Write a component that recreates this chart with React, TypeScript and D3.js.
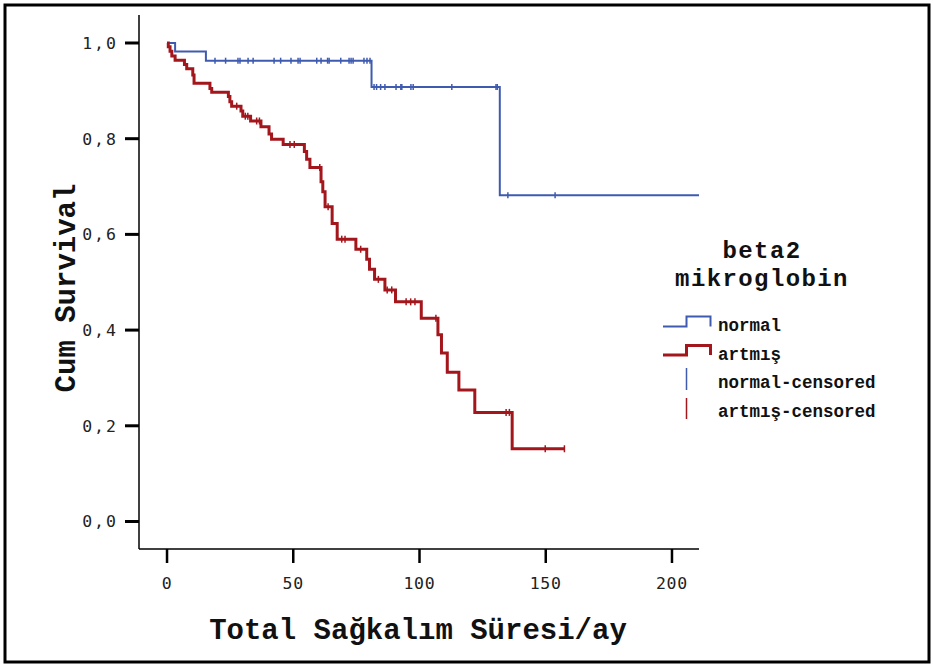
import React from "react";
import * as d3 from "d3";

// Kaplan-Meier steps: [time, survival after event]
const normalSteps: [number, number][] = [
  [0, 1.0], [3.2, 0.982], [15.4, 0.963], [81.0, 0.908], [131.8, 0.682], [210.7, 0.682],
];
const normalCensored: [number, number][] = [
  [19.0, 0.963], [23.2, 0.963], [28.1, 0.963], [28.9, 0.963], [32.1, 0.963], [34.1, 0.963],
  [42.4, 0.963], [45.0, 0.963], [49.1, 0.963], [51.9, 0.963], [52.7, 0.963], [59.3, 0.963],
  [61.0, 0.963], [63.6, 0.963], [64.2, 0.963], [68.8, 0.963], [72.1, 0.963], [72.9, 0.963],
  [73.7, 0.963], [78.0, 0.963], [79.2, 0.963], [80.4, 0.963],
  [82.0, 0.908], [83.0, 0.908], [84.6, 0.908], [86.3, 0.908], [90.7, 0.908], [92.6, 0.908],
  [93.0, 0.908], [96.6, 0.908], [97.5, 0.908], [112.8, 0.908], [130.3, 0.908], [130.8, 0.908],
  [135.0, 0.682], [153.7, 0.682],
];

const artmisSteps: [number, number][] = [
  [0, 1.0], [0.5, 0.992], [1.2, 0.983], [1.9, 0.973], [3.2, 0.964], [6.9, 0.955], [7.8, 0.946],
  [10.2, 0.933], [10.7, 0.916], [17.0, 0.905], [17.7, 0.897], [24.3, 0.888], [24.9, 0.877],
  [25.6, 0.868], [29.3, 0.858], [30.0, 0.847], [33.1, 0.837], [37.2, 0.825], [40.4, 0.81],
  [41.4, 0.799], [46.0, 0.788], [54.4, 0.773], [55.3, 0.757], [56.6, 0.74], [61.0, 0.71],
  [61.7, 0.689], [62.6, 0.658], [65.4, 0.623], [67.4, 0.59], [74.8, 0.569], [79.1, 0.548],
  [80.2, 0.527], [82.2, 0.506], [86.3, 0.484], [90.5, 0.459], [100.7, 0.425], [107.3, 0.39],
  [108.7, 0.352], [111.0, 0.312], [115.6, 0.275], [121.9, 0.228], [136.7, 0.152], [157.4, 0.152],
];
const artmisCensored: [number, number][] = [
  [27.6, 0.868], [31.0, 0.847], [32.0, 0.847], [35.5, 0.837], [36.6, 0.837], [48.7, 0.788],
  [50.4, 0.788], [60.5, 0.74], [63.8, 0.658], [69.2, 0.59], [70.5, 0.59], [76.7, 0.569],
  [83.7, 0.506], [87.2, 0.484], [89.0, 0.484], [94.7, 0.459], [96.5, 0.459], [98.2, 0.459],
  [106.5, 0.425], [134.3, 0.228], [135.6, 0.228], [149.8, 0.152], [157.4, 0.152],
];

const xTicks = [0, 50, 100, 150, 200];
const yTicks = [0, 0.2, 0.4, 0.6, 0.8, 1.0];
const yTickLabels = ["0,0", "0,2", "0,4", "0,6", "0,8", "1,0"];
const legendTitle = ["beta2", "mikroglobin"];
const legendLabels = ["normal", "artmış", "normal-censored", "artmış-censored"];

const BLUE = "#3f5bb0";
const RED = "#a3161c";

export default function App() {
  const W = 933, H = 667;
  const x = d3.scaleLinear().domain([-11.1, 210.7]).range([139, 699]);
  const y = d3.scaleLinear().domain([-0.0575, 1.0585]).range([549, 15]);
  const line = d3.line<[number, number]>().x(d => x(d[0])).y(d => y(d[1])).curve(d3.curveStepAfter);
  const bold = "'Liberation Mono', 'Courier New', monospace";
  const tickFont = "'DejaVu Sans Mono', monospace";

  return (
    <svg width={W} height={H} style={{ position: "absolute", left: 0, top: 0 }}>
      <rect x={0} y={0} width={W} height={H} fill="#fff" />
      <rect x={5} y={5} width={924} height={657} fill="none" stroke="#000" strokeWidth={3} />
      {/* axes */}
      <line x1={139} x2={139} y1={15} y2={549} stroke="#000" strokeWidth={1.5} />
      <line x1={139} x2={699} y1={549} y2={549} stroke="#000" strokeWidth={1.5} />
      {yTicks.map((t, i) => (
        <g key={"yt" + i}>
          <line x1={125} x2={139} y1={y(t)} y2={y(t)} stroke="#000" strokeWidth={3} />
          <text x={118} y={y(t) + 6} textAnchor="end" fontFamily={tickFont} fontSize={16.5} letterSpacing={2} fill="#222">
            {yTickLabels[i]}
          </text>
        </g>
      ))}
      {xTicks.map((t, i) => (
        <g key={"xt" + i}>
          <line x1={x(t)} x2={x(t)} y1={549} y2={563} stroke="#000" strokeWidth={2.5} />
          <text x={x(t)} y={589} textAnchor="middle" fontFamily={tickFont} fontSize={16.5} letterSpacing={0.8} fill="#222">
            {t}
          </text>
        </g>
      ))}
      <text x={418} y={639} textAnchor="middle" fontFamily={bold} fontWeight="bold" fontSize={29} fill="#111">
        Total Sağkalım Süresi/ay
      </text>
      <text transform="translate(75,288) rotate(-90)" textAnchor="middle" fontFamily={bold} fontWeight="bold" fontSize={29} fill="#111">
        Cum Survival
      </text>
      {/* curves */}
      <path d={line(normalSteps) || ""} fill="none" stroke={BLUE} strokeWidth={2} />
      <path d={line(artmisSteps) || ""} fill="none" stroke={RED} strokeWidth={3} />
      {normalCensored.map((d, i) => (
        <line key={"nc" + i} x1={x(d[0])} x2={x(d[0])} y1={y(d[1]) - 3} y2={y(d[1]) + 3} stroke={BLUE} strokeWidth={1.5} />
      ))}
      {artmisCensored.map((d, i) => (
        <line key={"ac" + i} x1={x(d[0])} x2={x(d[0])} y1={y(d[1]) - 3.5} y2={y(d[1]) + 3.5} stroke={RED} strokeWidth={1.5} />
      ))}
      {/* legend */}
      <text x={762} y={258} textAnchor="middle" fontFamily={bold} fontWeight="bold" fontSize={24} letterSpacing={1.4} fill="#111">{legendTitle[0]}</text>
      <text x={762} y={286} textAnchor="middle" fontFamily={bold} fontWeight="bold" fontSize={24} letterSpacing={1.4} fill="#111">{legendTitle[1]}</text>
      <path d="M663,326.5H686.5V316.5H710.5V326.5" fill="none" stroke={BLUE} strokeWidth={2} />
      <path d="M663,355H686.5V345.5H710.5V355" fill="none" stroke={RED} strokeWidth={3} />
      <line x1={686.5} x2={686.5} y1={368} y2={390} stroke={BLUE} strokeWidth={1.5} />
      <line x1={686.5} x2={686.5} y1={398} y2={419} stroke={RED} strokeWidth={1.5} />
      {legendLabels.map((l, i) => (
        <text key={l} x={718} y={[331, 360, 388, 417][i]} fontFamily={bold} fontWeight="bold" fontSize={17.5} fill="#111">{l}</text>
      ))}
    </svg>
  );
}
